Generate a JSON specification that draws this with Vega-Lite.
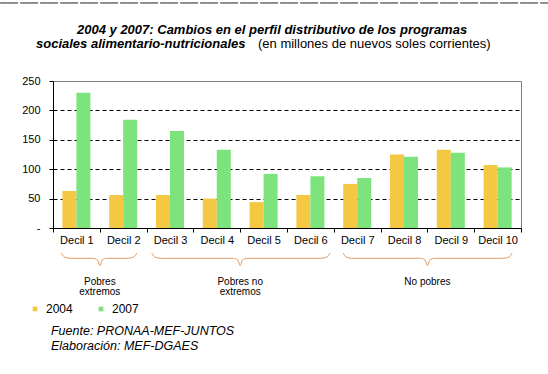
{
  "$schema": "https://vega.github.io/schema/vega-lite/v6.json",
  "width": 468,
  "height": 147,
  "autosize": {"type": "none"},
  "padding": {"left": 53, "top": 81, "right": 27, "bottom": 146},
  "background": "white",
  "config": {
    "font": "Liberation Sans",
    "view": {"stroke": "#808080", "strokeWidth": 1},
    "text": {"font": "Liberation Sans", "color": "black"}
  },
  "datasets": {
    "bars": [
      {"decil": "Decil 1", "anio": "2004", "valor": 63},
      {"decil": "Decil 1", "anio": "2007", "valor": 230},
      {"decil": "Decil 2", "anio": "2004", "valor": 56},
      {"decil": "Decil 2", "anio": "2007", "valor": 184},
      {"decil": "Decil 3", "anio": "2004", "valor": 56},
      {"decil": "Decil 3", "anio": "2007", "valor": 165},
      {"decil": "Decil 4", "anio": "2004", "valor": 50},
      {"decil": "Decil 4", "anio": "2007", "valor": 133},
      {"decil": "Decil 5", "anio": "2004", "valor": 44},
      {"decil": "Decil 5", "anio": "2007", "valor": 92},
      {"decil": "Decil 6", "anio": "2004", "valor": 56},
      {"decil": "Decil 6", "anio": "2007", "valor": 88},
      {"decil": "Decil 7", "anio": "2004", "valor": 75},
      {"decil": "Decil 7", "anio": "2007", "valor": 85},
      {"decil": "Decil 8", "anio": "2004", "valor": 125},
      {"decil": "Decil 8", "anio": "2007", "valor": 121},
      {"decil": "Decil 9", "anio": "2004", "valor": 133},
      {"decil": "Decil 9", "anio": "2007", "valor": 128},
      {"decil": "Decil 10", "anio": "2004", "valor": 107},
      {"decil": "Decil 10", "anio": "2007", "valor": 103}
    ],
    "braces": [
      {"g": "a", "px": 0.18, "py": -42.5}, {"g": "a", "px": 0.24, "py": -49}, {"g": "a", "px": 0.36, "py": -51.5},
      {"g": "a", "px": 0.85, "py": -51.5}, {"g": "a", "px": 0.95, "py": -54.5}, {"g": "a", "px": 1.0, "py": -64},
      {"g": "a", "px": 1.05, "py": -54.5}, {"g": "a", "px": 1.15, "py": -51.5}, {"g": "a", "px": 1.61, "py": -51.5},
      {"g": "a", "px": 1.73, "py": -49}, {"g": "a", "px": 1.79, "py": -42.5},
      {"g": "b", "px": 2.11, "py": -42.5}, {"g": "b", "px": 2.17, "py": -49}, {"g": "b", "px": 2.29, "py": -51.5},
      {"g": "b", "px": 3.85, "py": -51.5}, {"g": "b", "px": 3.95, "py": -54.5}, {"g": "b", "px": 4.0, "py": -64},
      {"g": "b", "px": 4.05, "py": -54.5}, {"g": "b", "px": 4.15, "py": -51.5}, {"g": "b", "px": 5.74, "py": -51.5},
      {"g": "b", "px": 5.86, "py": -49}, {"g": "b", "px": 5.92, "py": -42.5},
      {"g": "c", "px": 6.2, "py": -42.5}, {"g": "c", "px": 6.26, "py": -49}, {"g": "c", "px": 6.38, "py": -51.5},
      {"g": "c", "px": 7.85, "py": -51.5}, {"g": "c", "px": 7.95, "py": -54.5}, {"g": "c", "px": 8.0, "py": -64},
      {"g": "c", "px": 8.05, "py": -54.5}, {"g": "c", "px": 8.15, "py": -51.5}, {"g": "c", "px": 9.63, "py": -51.5},
      {"g": "c", "px": 9.75, "py": -49}, {"g": "c", "px": 9.81, "py": -42.5}
    ],
    "groups": [
      {"grupo": "Pobres\nextremos", "centro": 1.0},
      {"grupo": "Pobres no\nextremos", "centro": 4.0},
      {"grupo": "No pobres", "centro": 8.0}
    ],
    "one": [{}]
  },
  "layer": [
    {
      "data": {"name": "bars"},
      "mark": {"type": "bar"},
      "encoding": {
        "x": {
          "field": "decil", "type": "nominal", "sort": null,
          "scale": {"paddingInner": 0, "paddingOuter": 0},
          "axis": {
            "title": null, "labelAngle": 0, "labelFontSize": 11, "labelColor": "black",
            "labelFont": "Liberation Sans", "domainColor": "black", "tickColor": "black",
            "tickSize": 4, "tickBand": "extent", "labelPadding": 2, "grid": false
          }
        },
        "xOffset": {
          "field": "anio", "type": "nominal",
          "scale": {"paddingInner": 0, "paddingOuter": 0.67}
        },
        "y": {
          "field": "valor", "type": "quantitative",
          "scale": {"domain": [0, 250], "nice": false},
          "axis": {
            "title": null, "values": [0, 50, 100, 150, 200, 250],
            "labelExpr": "datum.value == 0 ? '-\u00a0\u00a0\u00a0\u00a0' : datum.label",
            "labelFontSize": 11, "labelColor": "black", "labelFont": "Liberation Sans",
            "domainColor": "black", "tickColor": "black", "tickSize": 4, "labelPadding": 9,
            "grid": true, "gridColor": "black", "gridDash": [4, 3], "gridWidth": 1,
            "gridOpacity": {"condition": {"test": "datum.value == 0 || datum.value == 250", "value": 0}, "value": 1}
          }
        },
        "color": {
          "field": "anio", "type": "nominal",
          "scale": {"domain": ["2004", "2007"], "range": ["#F4C842", "#7DE37D"]},
          "legend": {
            "title": null, "orient": "none", "legendX": -24, "legendY": 222,
            "direction": "horizontal", "symbolType": "square", "symbolSize": 22,
            "symbolStrokeWidth": 0, "labelFontSize": 12, "labelFont": "Liberation Sans",
            "labelColor": "black", "columnPadding": 22, "labelOffset": 5, "padding": 0
          }
        }
      }
    },
    {
      "layer": [
        {
          "data": {"name": "braces"},
          "mark": {"type": "line", "interpolate": "monotone", "color": "#E39B62", "strokeWidth": 1, "clip": false},
          "encoding": {
            "x": {"field": "px", "type": "quantitative", "scale": {"domain": [0, 10], "nice": false, "zero": false}, "axis": null},
            "y": {"field": "py", "type": "quantitative", "scale": {"domain": [0, 250], "nice": false, "zero": false}, "axis": null},
            "detail": {"field": "g"}
          }
        },
        {
          "data": {"name": "groups"},
          "mark": {"type": "text", "fontSize": 10, "align": "center", "baseline": "top", "lineBreak": "\n", "lineHeight": 10.5, "clip": false},
          "encoding": {
            "x": {"field": "centro", "type": "quantitative", "scale": {"domain": [0, 10], "nice": false, "zero": false}, "axis": null},
            "y": {"datum": -82.5, "type": "quantitative", "scale": {"domain": [0, 250], "nice": false, "zero": false}, "axis": null},
            "text": {"field": "grupo"}
          }
        },
        {
          "data": {"name": "one"},
          "mark": {"type": "rule", "color": "#222222", "strokeWidth": 1, "strokeDash": [18, 2], "clip": false},
          "encoding": {
            "x": {"datum": -1.13, "type": "quantitative", "scale": {"domain": [0, 10], "nice": false, "zero": false}, "axis": null},
            "x2": {"datum": 10.58},
            "y": {"datum": 382.7, "type": "quantitative", "scale": {"domain": [0, 250], "nice": false, "zero": false}, "axis": null}
          }
        },
        {
          "data": {"name": "one"},
          "mark": {"type": "text", "fontSize": 13, "fontWeight": "bold", "fontStyle": "italic", "align": "left", "baseline": "middle", "clip": false},
          "encoding": {
            "x": {"datum": 0.513, "type": "quantitative", "scale": {"domain": [0, 10], "nice": false, "zero": false}, "axis": null},
            "y": {"datum": 336.7, "type": "quantitative", "scale": {"domain": [0, 250], "nice": false, "zero": false}, "axis": null},
            "text": {"value": "2004 y 2007: Cambios en el perfil distributivo de los programas"}
          }
        },
        {
          "data": {"name": "one"},
          "mark": {"type": "text", "fontSize": 13, "fontWeight": "bold", "fontStyle": "italic", "align": "left", "baseline": "middle", "clip": false},
          "encoding": {
            "x": {"datum": -0.363, "type": "quantitative", "scale": {"domain": [0, 10], "nice": false, "zero": false}, "axis": null},
            "y": {"datum": 312.9, "type": "quantitative", "scale": {"domain": [0, 250], "nice": false, "zero": false}, "axis": null},
            "text": {"value": "sociales alimentario-nutricionales"}
          }
        },
        {
          "data": {"name": "one"},
          "mark": {"type": "text", "fontSize": 13, "align": "left", "baseline": "middle", "clip": false},
          "encoding": {
            "x": {"datum": 4.38, "type": "quantitative", "scale": {"domain": [0, 10], "nice": false, "zero": false}, "axis": null},
            "y": {"datum": 312.9, "type": "quantitative", "scale": {"domain": [0, 250], "nice": false, "zero": false}, "axis": null},
            "text": {"value": "(en millones de nuevos soles corrientes)"}
          }
        },
        {
          "data": {"name": "one"},
          "mark": {"type": "text", "fontSize": 12.5, "fontStyle": "italic", "align": "left", "baseline": "middle", "clip": false},
          "encoding": {
            "x": {"datum": -0.043, "type": "quantitative", "scale": {"domain": [0, 10], "nice": false, "zero": false}, "axis": null},
            "y": {"datum": -175.2, "type": "quantitative", "scale": {"domain": [0, 250], "nice": false, "zero": false}, "axis": null},
            "text": {"value": "Fuente: PRONAA-MEF-JUNTOS"}
          }
        },
        {
          "data": {"name": "one"},
          "mark": {"type": "text", "fontSize": 12.5, "fontStyle": "italic", "align": "left", "baseline": "middle", "clip": false},
          "encoding": {
            "x": {"datum": -0.043, "type": "quantitative", "scale": {"domain": [0, 10], "nice": false, "zero": false}, "axis": null},
            "y": {"datum": -200.7, "type": "quantitative", "scale": {"domain": [0, 250], "nice": false, "zero": false}, "axis": null},
            "text": {"value": "Elaboración: MEF-DGAES"}
          }
        }
      ]
    }
  ],
  "resolve": {"scale": {"x": "independent", "y": "independent"}}
}
